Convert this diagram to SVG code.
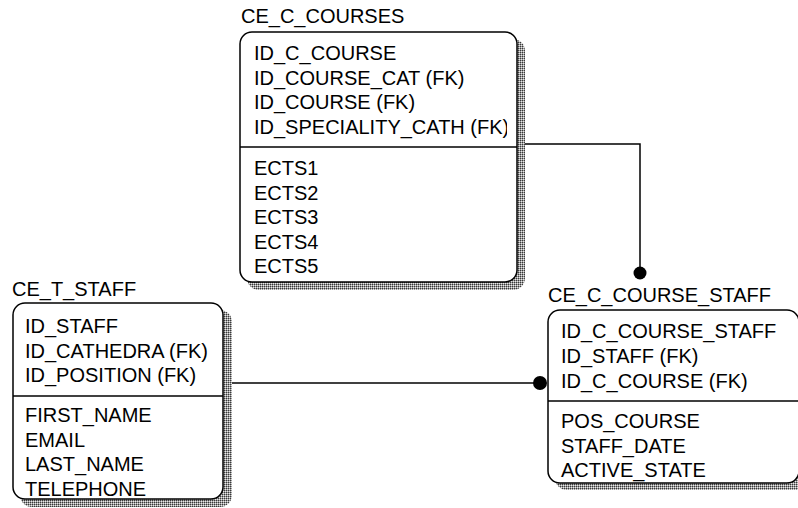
<svg xmlns="http://www.w3.org/2000/svg" width="798" height="508" viewBox="0 0 798 508">
<defs>
<pattern id="chk" width="2" height="2" patternUnits="userSpaceOnUse">
<rect width="2" height="2" fill="#9a9a9a"/>
<rect x="0" y="0" width="1" height="1" fill="#3a3a3a"/>
<rect x="1" y="1" width="1" height="1" fill="#e8e8e8"/>
</pattern>
<clipPath id="clipCourses"><rect x="241" y="33" width="266" height="249"/></clipPath>
</defs>
<style>
text{font-family:"Liberation Sans",Arial,sans-serif;font-size:20px;fill:#000}
.box{fill:#fff;stroke:#000;stroke-width:1.5}
.shadow{fill:url(#chk);stroke:none}
.div{stroke:#000;stroke-width:1.5}
.conn{stroke:#000;stroke-width:1.5;fill:none}
</style>
<g id="CE_C_COURSES">
<text x="241" y="23">CE_C_COURSES</text>
<rect class="shadow" x="247" y="39" width="278" height="251" rx="12"/>
<rect class="box" x="240" y="32" width="277" height="250" rx="12"/>
<line class="div" x1="240" y1="147" x2="517" y2="147"/>
<g clip-path="url(#clipCourses)">
<text x="254" y="60">ID_C_COURSE</text>
<text x="254" y="84.5">ID_COURSE_CAT (FK)</text>
<text x="254" y="109">ID_COURSE (FK)</text>
<text x="254" y="133.5">ID_SPECIALITY_CATH (FK)</text>
<text x="254" y="175">ECTS1</text>
<text x="254" y="199.5">ECTS2</text>
<text x="254" y="224">ECTS3</text>
<text x="254" y="248.5">ECTS4</text>
<text x="254" y="273">ECTS5</text>
</g>
</g>
<g id="CE_T_STAFF">
<text x="12" y="296">CE_T_STAFF</text>
<rect class="shadow" x="20" y="310" width="212" height="197" rx="12"/>
<rect class="box" x="13" y="303" width="210" height="196" rx="12"/>
<line class="div" x1="13" y1="396" x2="223" y2="396"/>
<text x="25" y="333">ID_STAFF</text>
<text x="25" y="357.5">ID_CATHEDRA (FK)</text>
<text x="25" y="382">ID_POSITION (FK)</text>
<text x="25" y="422">FIRST_NAME</text>
<text x="25" y="446.5">EMAIL</text>
<text x="25" y="471">LAST_NAME</text>
<text x="25" y="496">TELEPHONE</text>
</g>
<g id="CE_C_COURSE_STAFF">
<text x="548" y="302">CE_C_COURSE_STAFF</text>
<rect class="shadow" x="555" y="317" width="252" height="173" rx="12"/>
<rect class="box" x="548" y="310" width="251" height="173" rx="12"/>
<line class="div" x1="548" y1="401" x2="799" y2="401"/>
<text x="561" y="338">ID_C_COURSE_STAFF</text>
<text x="561" y="363">ID_STAFF (FK)</text>
<text x="561" y="388">ID_C_COURSE (FK)</text>
<text x="561" y="428">POS_COURSE</text>
<text x="561" y="453">STAFF_DATE</text>
<text x="561" y="477">ACTIVE_STATE</text>
</g>
<g id="connectors">
<polyline class="conn" points="525,144 640,144 640,268"/>
<circle cx="640" cy="273" r="6.5" fill="#000"/>
<line class="conn" x1="232" y1="383" x2="535" y2="383"/>
<circle cx="540" cy="383" r="7" fill="#000"/>
</g>
</svg>
